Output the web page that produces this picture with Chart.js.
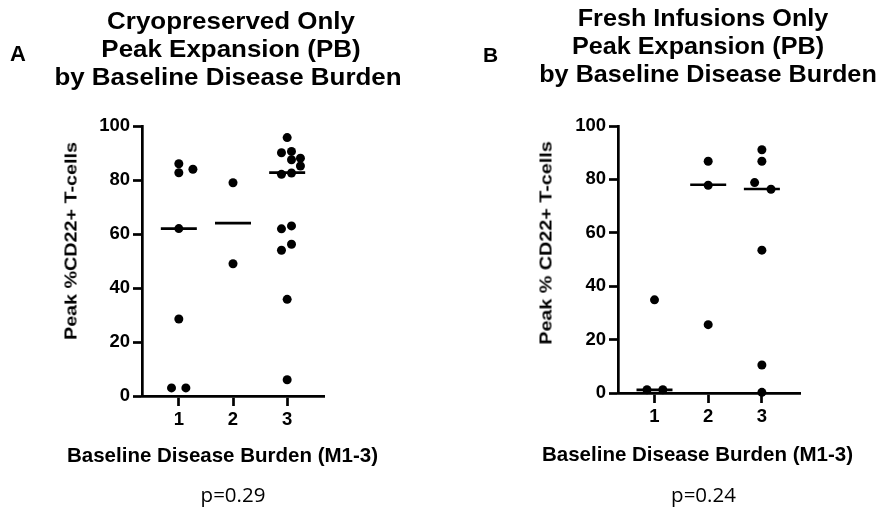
<!DOCTYPE html>
<html><head><meta charset="utf-8">
<script src="https://cdn.jsdelivr.net/npm/chart.js@4"></script>
<style>
html,body{margin:0;padding:0;background:#fff;}
body{width:885px;height:514px;overflow:hidden;position:relative;}
canvas{position:absolute;top:0;}
.t{position:absolute;white-space:nowrap;color:#000;line-height:1;}
.b{font-family:"Liberation Sans",Arial,sans-serif;font-weight:bold;}
.c{transform-origin:50% 50%;}
.p{font-family:"Open Sans",sans-serif;font-weight:normal;}
</style></head><body>
<canvas id="cA" width="442" height="514" style="left:0px"></canvas>
<canvas id="cB" width="443" height="514" style="left:442px"></canvas>

<div class="t b" style="left:10px;top:43px;font-size:22px">A</div>
<div class="t b c" style="left:231px;top:9px;font-size:24px;transform:translateX(-50%) scaleX(1.08)">Cryopreserved Only</div>
<div class="t b c" style="left:231px;top:37px;font-size:24px;transform:translateX(-50%) scaleX(1.08)">Peak Expansion (PB)</div>
<div class="t b c" style="left:228px;top:65.4px;font-size:24px;transform:translateX(-50%) scaleX(1.08)">by Baseline Disease Burden</div>
<div class="t b c" style="left:71px;top:240.8px;font-size:17px;transform:translate(-50%,-50%) rotate(-90deg) scaleX(1.16)">Peak %CD22+ T-cells</div>
<div class="t b" style="left:67px;top:445.3px;font-size:20.5px">Baseline Disease Burden (M1-3)</div>
<div class="t p c" style="left:233px;top:483.5px;font-size:20.5px;transform:translateX(-50%)">p=0.29</div>

<div class="t b" style="left:483px;top:44px;font-size:21px">B</div>
<div class="t b c" style="left:703px;top:5.7px;font-size:24px;transform:translateX(-50%) scaleX(1.05)">Fresh Infusions Only</div>
<div class="t b c" style="left:698px;top:34px;font-size:24px;transform:translateX(-50%) scaleX(1.05)">Peak Expansion (PB)</div>
<div class="t b c" style="left:708px;top:62.4px;font-size:24px;transform:translateX(-50%) scaleX(1.05)">by Baseline Disease Burden</div>
<div class="t b c" style="left:546px;top:243px;font-size:17px;transform:translate(-50%,-50%) rotate(-90deg) scaleX(1.16)">Peak % CD22+ T-cells</div>
<div class="t b" style="left:542px;top:443.7px;font-size:20.5px">Baseline Disease Burden (M1-3)</div>
<div class="t p c" style="left:703.5px;top:483.5px;font-size:20.5px;transform:translateX(-50%)">p=0.24</div>

<script>
// ---- data ----
const categories = [1, 2, 3];
const tickLabels = ['1', '2', '3'];
const yTicks = [0, 20, 40, 60, 80, 100];

// Panel A: Cryopreserved only
const cryoM1 = [86, 82.7, 84, 62, 28.5, 3, 3];
const cryoM2 = [79, 49];
const cryoM3 = [95.7, 90.6, 90.1, 88.1, 87.5, 85.2, 82.6, 82.1, 63, 61.9, 56.2, 54, 35.8, 6];
const cryoJitterM1 = [0, 0, 0.26, 0, 0, -0.135, 0.13];
const cryoJitterM2 = [0, 0];
const cryoJitterM3 = [0, 0.08, -0.105, 0.245, 0.08, 0.245, 0.08, -0.105, 0.08, -0.105, 0.08, -0.105, 0, 0];
const cryoMedians = [62, 64, 82.7];

// Panel B: Fresh infusions only
const freshM1 = [1.2, 1.2, 34.9];
const freshM2 = [86.8, 77.8, 25.6];
const freshM3 = [91.1, 86.8, 78.8, 76.3, 53.5, 10.5, 0.25];
const freshJitterM1 = [-0.14, 0.155, 0];
const freshJitterM2 = [0, 0, 0];
const freshJitterM3 = [0, 0, -0.135, 0.17, 0, 0, 0];
const freshMedians = [1.2, 78, 76.4];

Chart.defaults.font.family = '"Liberation Sans", Arial, sans-serif';
Chart.defaults.color = '#000';

function buildPoints(groups, jitters) {
  const pts = [];
  groups.forEach((vals, g) => {
    vals.forEach((v, i) => pts.push({x: categories[g] + jitters[g][i], y: v}));
  });
  return pts;
}

function makeChart(id, groups, jitters, medians, cfg) {
  const tickFont = {family: '"Liberation Sans", Arial, sans-serif', weight: 'bold', size: 18.5};
  return new Chart(document.getElementById(id), {
    type: 'scatter',
    data: {
      datasets: [
        {
          data: buildPoints(groups, jitters),
          pointRadius: 4.5,
          pointBackgroundColor: '#000',
          pointBorderWidth: 0,
          pointHoverRadius: 4.5,
          clip: false
        },
        {
          data: medians.map((m, i) => ({x: categories[i], y: m})),
          pointStyle: 'line',
          pointRadius: 18,
          pointHoverRadius: 18,
          pointBorderColor: '#000',
          pointBorderWidth: 2.7,
          clip: false
        }
      ]
    },
    options: {
      responsive: false,
      animation: false,
      devicePixelRatio: 1,
      events: [],
      plugins: {legend: {display: false}, tooltip: {enabled: false}},
      layout: {padding: {left: 0, right: cfg.rightPad, top: 126, bottom: cfg.bottomPad}},
      scales: {
        x: {
          type: 'linear',
          min: cfg.xMin,
          max: cfg.xMax,
          afterBuildTicks: s => { s.ticks = categories.map(v => ({value: v})); },
          afterFit: s => { s.height = 40; },
          ticks: {
            callback: (v, i) => tickLabels[i],
            font: tickFont, color: '#000', padding: 3, maxRotation: 0, autoSkip: false
          },
          grid: {drawOnChartArea: false, drawTicks: true, tickLength: 10, tickWidth: 2.7, tickColor: '#000'},
          border: {display: true, color: '#000', width: 2.7}
        },
        y: {
          min: 0,
          max: 100,
          afterBuildTicks: s => { s.ticks = yTicks.map(v => ({value: v})); },
          afterFit: s => { s.width = cfg.leftW; },
          ticks: {font: tickFont, color: '#000', padding: 3},
          grid: {drawOnChartArea: false, drawTicks: true, tickLength: 9, tickWidth: 2.7, tickColor: '#000'},
          border: {display: true, color: '#000', width: 2.7}
        }
      }
    }
  });
}

makeChart('cA', [cryoM1, cryoM2, cryoM3], [cryoJitterM1, cryoJitterM2, cryoJitterM3], cryoMedians,
  {leftW: 142, rightPad: 118, bottomPad: 78, xMin: 0.32, xMax: 3.68});
makeChart('cB', [freshM1, freshM2, freshM3], [freshJitterM1, freshJitterM2, freshJitterM3], freshMedians,
  {leftW: 176, rightPad: 85, bottomPad: 81, xMin: 0.32, xMax: 3.71});
</script>
</body></html>
